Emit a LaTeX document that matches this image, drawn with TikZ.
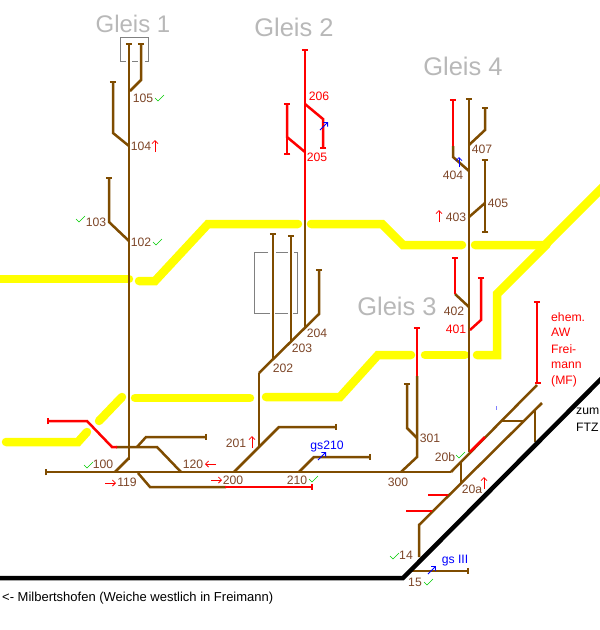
\documentclass[tikz,border=0pt]{standalone}
\usepackage{fontspec}
\setmainfont{Liberation Sans}
\usetikzlibrary{arrows.meta}

\definecolor{trackbrown}{RGB}{127,76,0}
\definecolor{bandyellow}{RGB}{255,255,0}
\definecolor{labelbrown}{RGB}{125,70,40}
\tikzset{
    track/.style={trackbrown, line width=2.5pt},
    spur/.style={red, line width=2.5pt},
    band/.style={bandyellow, line width=8.5pt, line cap=round},
    rail/.style={black, line width=4.5pt},
    buffer/.style={-{Bar[width=6.5pt,line width=1.8pt]}},
    bufferboth/.style={{Bar[width=6.5pt,line width=1.8pt]}-{Bar[width=6.5pt,line width=1.8pt]}},
    flag/.style={red, line width=0.8pt, -{Straight Barb[length=3pt,width=6pt]}},
    blueflag/.style={flag, blue},
    okmark/.style={green!80!black, line width=0.6pt},
    num/.style={labelbrown, font=\fontsize{12.2}{14}\selectfont, inner sep=0pt},
    rednum/.style={num, red},
    bluenum/.style={num, blue},
    gleis/.style={black!28, font=\fontsize{25.5}{28}\selectfont, inner sep=0pt},
    outline/.style={black!50, line width=0.8pt},
}

\begin{document}
\begin{tikzpicture}[x=1pt, y=-1pt]
    \useasboundingbox (0,0) rectangle (600,630);
    % Yellow bands
    \draw[band] (-4,279) -- (129,279);
    \draw[band] (139,281) -- (155,281) -- (208,224) -- (298,224);
    \draw[band] (311,224) -- (382,224) -- (403,245) -- (462,245);
    \draw[band] (475,245) -- (545,245) -- (604,186);
    \draw[band] (6,442) -- (78,442) -- (87,432);
    \draw[band] (99,421) -- (122,397);
    \draw[band] (135,398) -- (250,398);
    \draw[band] (266,397) -- (340,397) -- (378,355) -- (411,355);
    \draw[band] (425,355) -- (465,355);
    \draw[band] (477,355) -- (497,355) -- (497,294) -- (547,244);
    % Outlines round the old tracks
    \draw[outline] (120,61) -- (120,37) -- (148,37) -- (148,61) -- (145,61);
    \draw[outline] (120,61) -- (126,61) (132,61) -- (138,61);
    \draw[outline] (268,252) -- (254,252) -- (254,313) -- (270,313);
    \draw[outline] (276,252) -- (288,252) (275,313) -- (288,313);
    \draw[outline] (294,252) -- (297,252) -- (297,313) -- (293,313);
    % Gleis 1
    \draw[track, buffer] (129,460) -- (129,43);
    \draw[track] (115,472) -- (129,458);
    \draw[track, buffer] (130,91) -- (141,80) -- (141,43);
    \draw[track, buffer] (129,146) -- (113,133) -- (113,81);
    \draw[track, buffer] (129,241) -- (109,222) -- (109,177);
    % Gleis 2
    \draw[spur, buffer] (305,220) -- (305,49);
    \draw[track] (305,327) -- (305,220);
    \draw[spur, buffer] (305,104) -- (323,119) -- (323,149);
    \draw[spur, buffer] (305,152) -- (287,137) -- (287,103);
    \draw[spur, buffer] (287,137) -- (287,155);
    \draw[track] (259,447) -- (259,373);
    \draw[track, buffer] (259,373) -- (319,314) -- (319,269);
    \draw[track, buffer] (273,360) -- (273,233);
    \draw[track, buffer] (291,342) -- (291,235);
    \draw[track, buffer] (234,472) -- (279,427) -- (337,427);
    \draw[track, buffer] (299,472) -- (314,457) -- (371,457);
    % Main line and lower tracks
    \draw[track] (451,472) -- (45,472);
    \draw[track, buffer] (60,472) -- (45,472);
    \draw[track] (138,473) -- (150,487) -- (226,487);
    \draw[spur, buffer] (225,487) -- (313,487);
    \draw[track] (181,472) -- (157,447) -- (116,447);
    \draw[spur, buffer] (117,447) -- (112,447) -- (87,421) -- (47,421);
    \draw[track, buffer] (137,447) -- (146,437) -- (207,437);
    % Gleis 3
    \draw[track] (401,472) -- (417,457) -- (417,376);
    \draw[spur, buffer] (417,376) -- (417,327);
    \draw[track, buffer] (417,438) -- (407,428) -- (407,383);
    % Gleis 4
    \draw[track, buffer] (469,452) -- (469,98);
    \draw[track, buffer] (469,145) -- (485,130) -- (485,107);
    \draw[track] (469,171) -- (453,157) -- (453,146);
    \draw[spur, buffer] (453,146) -- (453,99);
    \draw[track, bufferboth] (485,159) -- (485,233);
    \draw[track] (469,217) -- (485,203);
    \draw[track] (469,307) -- (455,294);
    \draw[spur, buffer] (455,294) -- (455,257);
    \draw[spur, buffer] (470,330) -- (481,320) -- (481,277);
    % Lines along the rail
    \draw[track] (451,472) -- (537,385);
    \draw[spur] (470,452) -- (485,437);
    \draw[spur] (535,383) -- (541,383);
    \draw[spur, buffer] (537,383) -- (537,301);
    \draw[track] (419,557) -- (419,525) -- (542,403);
    \draw[track] (461,462) -- (461,483);
    \draw[track] (502,421) -- (524,421);
    \draw[track] (535,442) -- (535,410);
    \draw[spur] (428,495) -- (448,495);
    \draw[spur] (406,511) -- (432,511);
    \draw[track, buffer] (412,571) -- (469,571);
    \draw[blue!50, line width=0.5pt] (496,406) -- (496,410);
    % Rail to FTZ
    \draw[rail] (0,578) -- (403,578) -- (602,378);
    % Ticks
    \foreach \tx/\ty in {159/98, 157/242, 80/219, 88/465, 313/479, 460/455, 394/556, 428/582}
        \draw[okmark] (\tx-4,\ty) -- (\tx-1,\ty+3) -- (\tx+5,\ty-3);
    % Direction flags
    \draw[flag] (155,152) -- (155,140);
    \draw[flag] (439,222) -- (439,210);
    \draw[flag] (252,448) -- (252,436);
    \draw[flag] (484,489) -- (484,477);
    \draw[flag] (216,464) -- (205,464);
    \draw[flag] (105,483) -- (116,483);
    \draw[flag] (211,480) -- (222,480);
    \draw[blueflag] (320,130) -- (328,122);
    \draw[blueflag] (459,167) -- (459,157);
    \draw[blueflag] (318,460) -- (326,452);
    \draw[blueflag] (428,574) -- (436,566);
    % Titles
    \node[gleis, font=\fontsize{24}{28}\selectfont] (g1) at (133,24) {Gleis 1};
    \node[gleis] (g2) at (294,27) {Gleis 2};
    \node[gleis] (g4) at (463,66) {Gleis 4};
    \node[gleis] (g3) at (397,306) {Gleis 3};
    % Track numbers
    \node[num] (w105) at (143,98) {105};
    \node[num] (w104) at (141,146) {104};
    \node[num] (w102) at (141,242) {102};
    \node[num] (w103) at (96,222) {103};
    \node[num] (w100) at (103,464) {100};
    \node[num] (w119) at (127,482) {119};
    \node[num] (w120) at (193,464) {120};
    \node[num] (w200) at (233,480) {200};
    \node[num] (w210) at (297,480) {210};
    \node[num] (w201) at (236,443) {201};
    \node[num] (w202) at (283,368) {202};
    \node[num] (w203) at (302,348) {203};
    \node[num] (w204) at (317,333) {204};
    \node[rednum] (w206) at (319,96) {206};
    \node[rednum] (w205) at (317,157) {205};
    \node[num] (w407) at (482,149) {407};
    \node[num] (w404) at (453,175) {404};
    \node[num] (w405) at (498,203) {405};
    \node[num] (w403) at (456,217) {403};
    \node[num] (w402) at (454,311) {402};
    \node[rednum] (w401) at (456,329) {401};
    \node[num] (w300) at (398,482) {300};
    \node[num] (w301) at (430,438) {301};
    \node[num] (w20b) at (445,457) {20b};
    \node[num] (w20a) at (472,489) {20a};
    \node[num] (w14) at (406,555) {14};
    \node[num] (w15) at (415,582) {15};
    \node[bluenum] (gs210) at (327,446) {gs210};
    \node[bluenum] (gs3) at (455,561) {gs III};
    % Side notes
    \node[rednum, anchor=west] (ehem) at (551,317) {ehem.};
    \node[rednum, anchor=west] (aw) at (551,332.5) {AW};
    \node[rednum, anchor=west] (frei) at (551,349) {Frei-};
    \node[rednum, anchor=west] (mann) at (551,365) {mann};
    \node[rednum, anchor=west] (mf) at (551,381) {(MF)};
    \node[num, black, anchor=west] (zum) at (576,411) {zum};
    \node[num, black, anchor=west] (ftz) at (576,427) {FTZ};
    \node[num, black, anchor=west, font=\fontsize{13}{15}\selectfont] (milb) at (2,598) {<- Milbertshofen (Weiche westlich in Freimann)};
\end{tikzpicture}
\end{document}
